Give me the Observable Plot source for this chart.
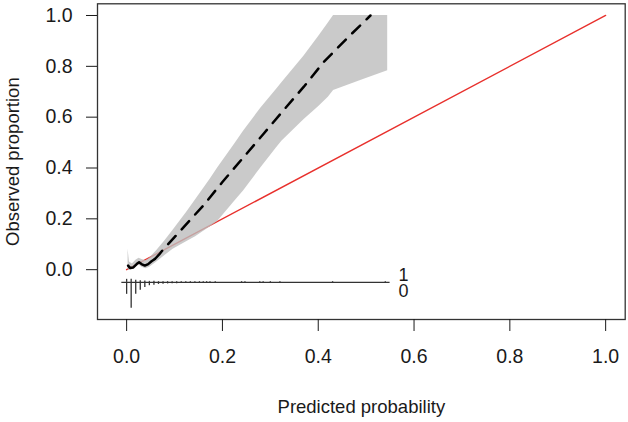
<!DOCTYPE html>
<html>
<head>
<meta charset="utf-8">
<script src="https://cdn.jsdelivr.net/npm/d3@7"></script>
<script src="https://cdn.jsdelivr.net/npm/@observablehq/plot@0.6"></script>
<style>
  html, body { margin: 0; padding: 0; background: #fff; }
  #chart svg { display: block; }
</style>
</head>
<body>
<div id="chart"></div>
<script>
// ---- Data ----
const xTicks = [0, 0.2, 0.4, 0.6, 0.8, 1.0];
const yTicks = [0, 0.2, 0.4, 0.6, 0.8, 1.0];
const xLabel = "Predicted probability";
const yLabel = "Observed proportion";

// ideal (diagonal) line
const idealX = [0, 1];
const idealY = [0, 1];

// flexible calibration curve
const calX = [0.003, 0.007, 0.014, 0.021, 0.026, 0.031, 0.038, 0.045, 0.052, 0.059,
              0.068, 0.077, 0.10, 0.13, 0.16, 0.20, 0.244, 0.286, 0.327, 0.37, 0.411, 0.46, 0.509];
const calY = [0.016, 0.007, 0.009, 0.022, 0.029, 0.022, 0.016, 0.022, 0.033, 0.042,
              0.06, 0.081, 0.128, 0.19, 0.252, 0.345, 0.442, 0.535, 0.626, 0.72, 0.816, 0.91, 1.0];
const solidUpTo = 10; // first points drawn solid

// confidence band
const bandX  = [0.003, 0.006, 0.012, 0.02, 0.026, 0.032, 0.04, 0.048, 0.063, 0.08, 0.097,
                0.125, 0.144, 0.174, 0.19, 0.226, 0.244, 0.28, 0.313, 0.324, 0.37, 0.40, 0.421, 0.432, 0.49, 0.545];
const bandLo = [0.0, -0.002, 0.0, 0.012, 0.018, 0.01, 0.004, 0.01, 0.03, 0.056, 0.08,
                0.11, 0.13, 0.168, 0.19, 0.27, 0.31, 0.40, 0.48, 0.505, 0.59, 0.64, 0.678, 0.705, 0.745, 0.783];
const bandHi = [0.08, 0.03, 0.022, 0.038, 0.045, 0.04, 0.035, 0.045, 0.075, 0.114, 0.155,
                0.225, 0.275, 0.355, 0.40, 0.495, 0.545, 0.635, 0.71, 0.735, 0.84, 0.915, 0.97, 1.0, 1.0, 1.0];

// spike histogram of predictions
const histBase = -0.05;
const histRange = [-0.01, 0.55];
const spikeX  = [0, 0.0095, 0.019, 0.0285, 0.038, 0.0475, 0.057, 0.0665, 0.076, 0.0855,
                 0.095, 0.1045, 0.114, 0.1235, 0.133, 0.1425, 0.152, 0.16, 0.167, 0.174, 0.185,
                 0.24, 0.247, 0.278, 0.285, 0.30, 0.32, 0.43, 0.54];
const spike0 = [0.047, 0.102, 0.047, 0.031, 0.020, 0.013, 0.011, 0.008, 0.007, 0.006,
                0.005, 0.005, 0.004, 0.004, 0.004, 0.004, 0.004, 0.004, 0.004, 0.004, 0.004,
                0.004, 0.004, 0.004, 0.004, 0.004, 0.004, 0.004, 0.004];
const spike1 = [0.012, 0.012, 0.008, 0.006, 0.005, 0.004, 0.004, 0.003, 0.003, 0.003,
                0.003, 0.003, 0.003, 0.003, 0.003, 0.003, 0.003, 0.003, 0.003, 0.003, 0.003,
                0.003, 0.003, 0.003, 0.003, 0.003, 0.003, 0.003, 0.003];
const outcomeLabels = ["1", "0"];
const outcomeLabelX = 0.578;
const outcomeLabelY = [-0.02, -0.084];

// ---- Build tables ----
const ideal = idealX.map((x, i) => ({x, y: idealY[i]}));
const cal = calX.map((x, i) => ({x, y: calY[i]}));
const band = bandX.map((x, i) => ({x, lo: bandLo[i], hi: bandHi[i]}));
const spikes = spikeX.map((x, i) => ({x, d0: spike0[i], d1: spike1[i]}));
const outcome = outcomeLabels.map((t, i) => ({t, y: outcomeLabelY[i]}));

const ink = "#1a1a1a";

const chart = Plot.plot({
  width: 628,
  height: 422,
  marginLeft: 97,
  marginRight: 3.3,
  marginTop: 3.3,
  marginBottom: 103,
  x: {domain: [-0.0608, 1.0408]},
  y: {domain: [-0.196, 1.046]},
  style: {fontFamily: "'Liberation Sans', Arial, sans-serif", fontSize: "18.5px", color: ink, background: "#fff"},
  marks: [
    Plot.line(ideal, {x: "x", y: "y", stroke: "#e8302c", strokeWidth: 1.4}),
    Plot.areaY(band, {x: "x", y1: "lo", y2: "hi", fill: "#bdbdbd", fillOpacity: 0.8}),
    Plot.line(cal.slice(0, solidUpTo), {x: "x", y: "y", stroke: "#000", strokeWidth: 2.5}),
    Plot.line(cal.slice(solidUpTo - 1), {x: "x", y: "y", stroke: "#000", strokeWidth: 2.5, strokeDasharray: "11,9"}),
    Plot.ruleY([histBase], {x1: histRange[0], x2: histRange[1], stroke: "#333", strokeWidth: 1.2}),
    Plot.ruleX(spikes, {x: "x", y1: histBase, y2: d => histBase - d.d0, stroke: "#333", strokeWidth: 1.3}),
    Plot.ruleX(spikes, {x: "x", y1: histBase, y2: d => histBase + d.d1, stroke: "#333", strokeWidth: 1.3}),
    Plot.text(outcome, {x: outcomeLabelX, y: "y", text: "t", fontSize: 18, fill: ink}),
    Plot.frame({stroke: "#333", strokeWidth: 1.3}),
    Plot.axisX({ticks: xTicks, tickFormat: d => d.toFixed(1), tickSize: 12, tickPadding: 18, fontSize: 19.5, label: null, stroke: ink}),
    Plot.axisY({ticks: yTicks, tickFormat: d => d.toFixed(1), tickSize: 11, tickPadding: 14, fontSize: 19.5, label: null, stroke: ink}),
    Plot.text([xLabel], {text: d => d, frameAnchor: "bottom", dy: 93, lineAnchor: "bottom", fill: ink}),
    Plot.text([yLabel], {text: d => d, frameAnchor: "left", dx: -79, rotate: -90, textAnchor: "middle", lineAnchor: "bottom", fill: ink})
  ]
});
document.getElementById("chart").appendChild(chart);
</script>
</body>
</html>
